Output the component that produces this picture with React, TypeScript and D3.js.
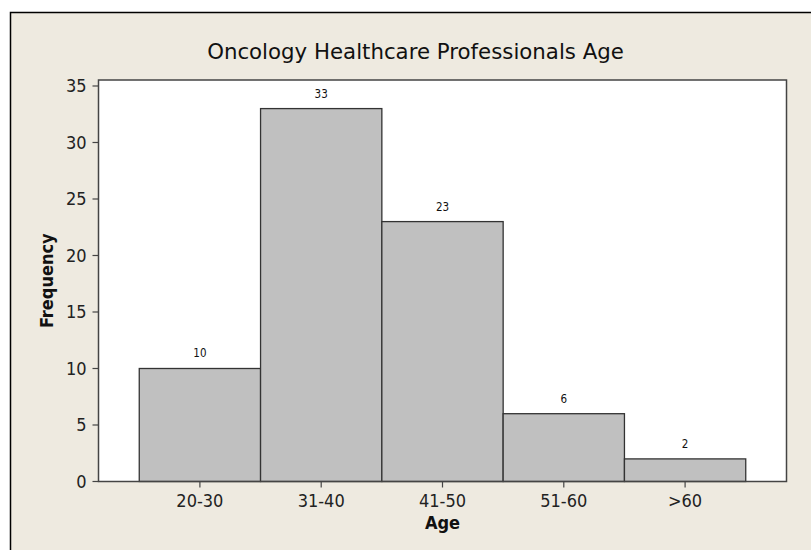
import React from "react";
import * as d3 from "d3";

const categories = ["20-30", "31-40", "41-50", "51-60", ">60"];
const frequencies = [10, 33, 23, 6, 2];
const yTicks = [0, 5, 10, 15, 20, 25, 30, 35];
const title = "Oncology Healthcare Professionals Age";
const xLabel = "Age";
const yLabel = "Frequency";

const W = 811;
const H = 550;
const plot = { left: 98.5, right: 786.5, top: 80, bottom: 481.5 };
const FONT = "'DejaVu Sans Condensed', 'DejaVu Sans', Tahoma, sans-serif";
const TITLE_FONT = "'DejaVu Sans', Tahoma, sans-serif";

export default function App() {
  const x = d3
    .scaleBand<string>()
    .domain(categories)
    .range([plot.left, plot.right])
    .paddingInner(0)
    .paddingOuter(0.336);
  const y = d3.scaleLinear().domain([0, 35.53]).range([plot.bottom, plot.top]);

  return (
    <svg
      width={W}
      height={H}
      style={{ position: "absolute", left: 0, top: 0, display: "block" }}
      fontFamily={FONT}
    >
      <rect x={0} y={0} width={W} height={H} fill="#ffffff" />
      <rect x={10.5} y={12.5} width={W + 20} height={H + 20} fill="#EEEAE0" stroke="#000" strokeWidth={1.5} />
      <text x={415.5} y={59} textAnchor="middle" fontSize={21.3} fontFamily={TITLE_FONT} fill="#111">
        {title}
      </text>
      <rect
        x={plot.left}
        y={plot.top}
        width={plot.right - plot.left}
        height={plot.bottom - plot.top}
        fill="#ffffff"
      />
      {categories.map((c, i) => (
        <g key={c}>
          <rect
            x={x(c)!}
            y={y(frequencies[i])}
            width={x.bandwidth()}
            height={y(0) - y(frequencies[i])}
            fill="#C0C0C0"
            stroke="#333"
            strokeWidth={1.3}
          />
          <text
            x={x(c)! + x.bandwidth() / 2}
            y={y(frequencies[i]) - 11}
            textAnchor="middle"
            fontSize={11.5}
            fill="#111"
          >
            {frequencies[i]}
          </text>
        </g>
      ))}
      <rect
        x={plot.left}
        y={plot.top}
        width={plot.right - plot.left}
        height={plot.bottom - plot.top}
        fill="none"
        stroke="#444"
        strokeWidth={1.5}
      />
      {yTicks.map((t) => (
        <g key={t}>
          <line x1={plot.left - 6} x2={plot.left} y1={y(t)} y2={y(t)} stroke="#444" strokeWidth={1.2} />
          <text x={plot.left - 12} y={y(t)} dy="0.36em" textAnchor="end" fontSize={18} fill="#222">
            {t}
          </text>
        </g>
      ))}
      {categories.map((c) => (
        <g key={"t" + c}>
          <line
            x1={x(c)! + x.bandwidth() / 2}
            x2={x(c)! + x.bandwidth() / 2}
            y1={plot.bottom}
            y2={plot.bottom + 6}
            stroke="#444"
            strokeWidth={1.2}
          />
          <text x={x(c)! + x.bandwidth() / 2} y={506.5} textAnchor="middle" fontSize={18} fill="#222">
            {c}
          </text>
        </g>
      ))}
      <text x={442.5} y={529} textAnchor="middle" fontSize={18} fontWeight="bold" fill="#111">
        {xLabel}
      </text>
      <text
        transform={`translate(53, ${(plot.top + plot.bottom) / 2}) rotate(-90)`}
        textAnchor="middle"
        fontSize={18}
        fontWeight="bold"
        fill="#111"
      >
        {yLabel}
      </text>
    </svg>
  );
}
